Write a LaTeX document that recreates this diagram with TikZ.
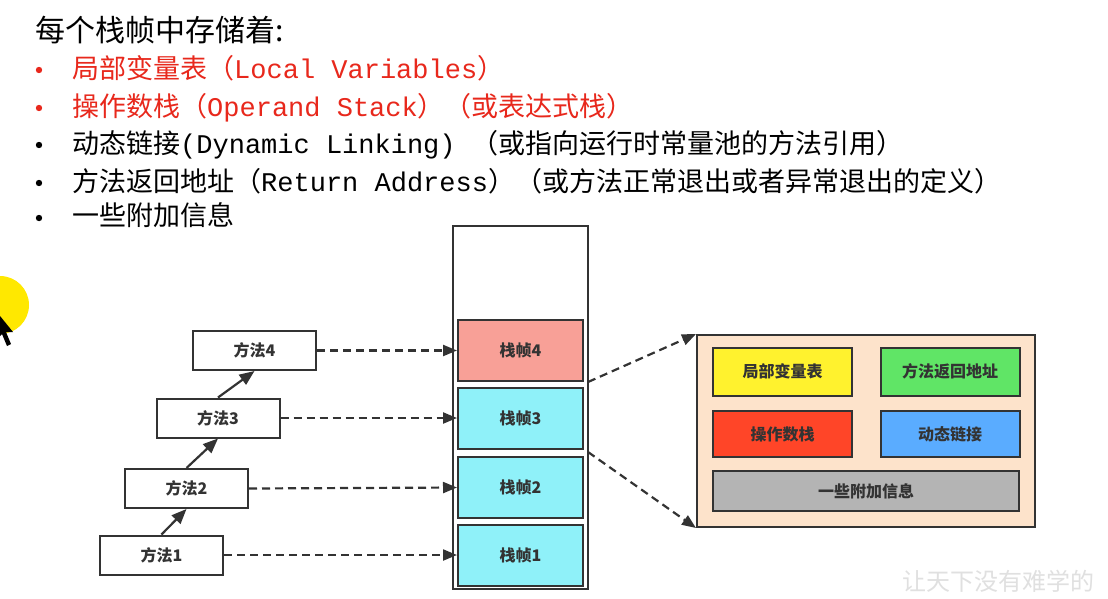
\documentclass[tikz,border=0pt]{standalone}
\usepackage{fontspec}
\setmainfont{Noto Sans CJK SC}
\newfontfamily\monof{Liberation Mono}
\usetikzlibrary{arrows.meta}
\definecolor{txtred}{HTML}{E8281C}
\definecolor{dk}{HTML}{333333}
\definecolor{salmon}{HTML}{F8A097}
\definecolor{cyanf}{HTML}{8FF1F9}
\definecolor{peach}{HTML}{FDE3CB}
\definecolor{yel}{HTML}{FFF22E}
\definecolor{grn}{HTML}{60E566}
\definecolor{rd}{HTML}{FF4528}
\definecolor{bl}{HTML}{5AACFF}
\definecolor{gr}{HTML}{B4B4B4}
\definecolor{hilite}{HTML}{FFE800}
\tikzset{
  boxbase/.style={draw=dk, line width=2pt, inner sep=0pt, text=dk,
    font=\fontsize{16}{16}\selectfont\bfseries},
  meth/.style={boxbase, fill=white, minimum width=123pt, minimum height=39pt},
  sframe/.style={boxbase, minimum width=125pt, minimum height=61pt},
  part/.style={boxbase, minimum width=139pt, minimum height=48pt},
  dasharr/.style={draw=dk, line width=2.2pt, dash pattern=on 8pt off 5pt,
    -{Triangle[length=14pt,width=11pt]}},
  solarr/.style={draw=dk, line width=2.2pt, -{Triangle[length=15pt,width=12pt]}},
  txtline/.style={anchor=base west, inner sep=0pt, font=\fontsize{27}{27}\selectfont},
}
\begin{document}
\begin{tikzpicture}[x=1pt,y=-1pt]
\useasboundingbox (0,0) rectangle (1108,598);
\fill[white] (0,0) rectangle (1108,598);
% screen highlight and cursor
\fill[hilite] (0,305) circle (29);
\fill[black] (-4,311) -- (13,332) -- (6,332) -- (11,344) -- (7,346) -- (2,334) -- (-4,340) -- cycle;
% text lines
\node[txtline] (t0) at (35,41) {\fontsize{30}{30}\selectfont 每个栈帧中存储着:};
\fill[txtred] (39,70) circle (3.2);
\node[txtline, text=txtred] (t1) at (72,78) {局部变量表（{\monof Local Variables}）};
\fill[txtred] (39,108) circle (3.2);
\node[txtline, text=txtred] (t2) at (72,116) {操作数栈（{\monof Operand Stack}）（或表达式栈）};
\fill[black] (39,145) circle (3.2);
\node[txtline] (t3) at (72,153) {动态链接{\monof (Dynamic Linking) }（或指向运行时常量池的方法引用）};
\fill[black] (39,183) circle (3.2);
\node[txtline] (t4) at (72,191) {方法返回地址（{\monof Return Address}）（或方法正常退出或者异常退出的定义）};
\fill[black] (39,218) circle (3.2);
\node[txtline] (t5) at (72,225) {一些附加信息};
% stack
\node[draw=dk, line width=2pt, minimum width=135pt, minimum height=363pt, inner sep=0pt] (stack) at (520.5,407.5) {};
\node[sframe, fill=salmon] (f4) at (520.5,350.5) {栈帧4};
\node[sframe, fill=cyanf] (f3) at (520.5,418) {栈帧3};
\node[sframe, fill=cyanf] (f2) at (520.5,487.5) {栈帧2};
\node[sframe, fill=cyanf] (f1) at (520.5,555) {栈帧1};
% methods
\node[meth] (m4) at (254.5,350.5) {方法4};
\node[meth] (m3) at (218,418) {方法3};
\node[meth] (m2) at (186.5,488.5) {方法2};
\node[meth] (m1) at (161.5,555) {方法1};
\draw[solarr] (m1.north) -- (m2.south);
\draw[solarr] (m2.north) -- (m3.south);
\draw[solarr] (m3.north) -- (m4.south);
\draw[dasharr] (m4.east) -- (f4.west);
\draw[dasharr] (m3.east) -- (f3.west);
\draw[dasharr] (m2.east) -- (f2.west);
\draw[dasharr] (m1.east) -- (f1.west);
% panel
\node[draw=dk, line width=2pt, fill=peach, minimum width=338pt, minimum height=192pt, inner sep=0pt] (panel) at (866,431) {};
\node[part, fill=yel] (lv) at (782.5,371.5) {局部变量表};
\node[part, fill=grn] (ra) at (950,371.5) {方法返回地址};
\node[part, fill=rd, minimum height=46pt] (os) at (782.5,434) {操作数栈};
\node[part, fill=bl, minimum height=46pt] (dl) at (950,434) {动态链接};
\node[part, fill=gr, minimum width=306pt, minimum height=40pt] (ai) at (866,491) {一些附加信息};
\coordinate (c1) at (588,382);
\coordinate (c2) at (588,452);
\draw[dasharr] (c1) -- (panel.north west);
\draw[dasharr] (c2) -- (panel.south west);
% watermark
\node[text=black!12, font=\fontsize{24}{24}\selectfont] (wm) at (998,581) {让天下没有难学的};
\end{tikzpicture}
\end{document}
